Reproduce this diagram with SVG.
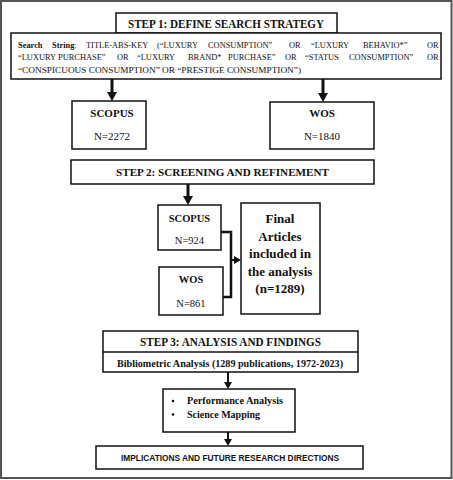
<svg xmlns="http://www.w3.org/2000/svg" width="453" height="480" viewBox="0 0 453 480">
<style>
.box{fill:#fff;stroke:#111;stroke-width:1.5}
.t{font-family:"Liberation Serif","Times New Roman",serif;fill:#111}
.b{font-weight:bold}
.s{font-family:"Liberation Sans",Arial,sans-serif;font-weight:bold;fill:#111}
.con{fill:none;stroke:#111}
</style>
<defs>
<marker id="ah" markerUnits="userSpaceOnUse" markerWidth="10" markerHeight="10" refX="0" refY="5" orient="auto"><path d="M0,0 L9,5 L0,10 z" fill="#111"/></marker>
<marker id="ahs" markerUnits="userSpaceOnUse" markerWidth="8" markerHeight="8" refX="0" refY="4" orient="auto"><path d="M0,0 L7,4 L0,8 z" fill="#111"/></marker>
</defs>
<rect x="0" y="0" width="453" height="480" fill="#fff"/>
<rect x="1" y="1" width="450.5" height="477" fill="none" stroke="#555" stroke-width="2"/>

<g id="connectors">
<line class="con" x1="112" y1="79" x2="112" y2="92" stroke-width="3" marker-end="url(#ah)"/>
<line class="con" x1="323" y1="79" x2="323" y2="93" stroke-width="3" marker-end="url(#ah)"/>
<line class="con" x1="188" y1="184" x2="188" y2="196" stroke-width="3" marker-end="url(#ah)"/>
<polyline class="con" points="221,232 231,232 231,297 223,297" stroke-width="2.5"/>
<line class="con" x1="231" y1="260" x2="234" y2="260" stroke-width="2" marker-end="url(#ahs)"/>
<line class="con" x1="228" y1="372" x2="228" y2="382" stroke-width="2" marker-end="url(#ahs)"/>
<line class="con" x1="228" y1="432" x2="228" y2="439" stroke-width="2" marker-end="url(#ahs)"/>
</g>

<g id="step1">
<rect class="box" x="116" y="13" width="221" height="20"/>
<text class="t b" x="226" y="28" font-size="11.5" text-anchor="middle" textLength="196" lengthAdjust="spacingAndGlyphs">STEP 1: DEFINE SEARCH STRATEGY</text>
</g>

<g id="search-string">
<rect class="box" x="11" y="33" width="430" height="46"/>
<text class="t" font-size="8.4" y="47.5"><tspan x="18" font-weight="bold">Search</tspan><tspan x="52" font-weight="bold">String</tspan><tspan>:</tspan><tspan x="86">TITLE-ABS-KEY</tspan><tspan x="157">(“LUXURY</tspan><tspan x="208">CONSUMPTION”</tspan><tspan x="289">OR</tspan><tspan x="311">“LUXURY</tspan><tspan x="363">BEHAVIO*”</tspan><tspan x="427">OR</tspan></text>
<text class="t" font-size="8.4" y="59.5"><tspan x="18">“LUXURY</tspan><tspan x="58">PURCHASE”</tspan><tspan x="117">OR</tspan><tspan x="137">“LUXURY</tspan><tspan x="188">BRAND*</tspan><tspan x="228">PURCHASE”</tspan><tspan x="285">OR</tspan><tspan x="305">“STATUS</tspan><tspan x="349">CONSUMPTION”</tspan><tspan x="427">OR</tspan></text>
<text class="t" font-size="8.4" x="18" y="72.5" textLength="283" lengthAdjust="spacingAndGlyphs">“CONSPICUOUS CONSUMPTION” OR “PRESTIGE CONSUMPTION”)</text>
</g>

<g id="scopus1">
<rect class="box" x="72" y="101" width="74" height="48"/>
<text class="t b" x="112" y="117" font-size="11" text-anchor="middle">SCOPUS</text>
<text class="t" x="112" y="140" font-size="11" text-anchor="middle">N=2272</text>
</g>

<g id="wos1">
<rect class="box" x="270" y="102" width="104" height="47"/>
<text class="t b" x="322" y="117" font-size="11" text-anchor="middle">WOS</text>
<text class="t" x="322" y="140" font-size="11" text-anchor="middle">N=1840</text>
</g>

<g id="step2">
<rect class="box" x="71" y="160" width="303" height="24"/>
<text class="t b" x="222.5" y="176" font-size="10.5" text-anchor="middle" textLength="213" lengthAdjust="spacingAndGlyphs">STEP 2: SCREENING AND REFINEMENT</text>
</g>

<g id="scopus2">
<rect class="box" x="158" y="205" width="63" height="45"/>
<text class="t b" x="189.5" y="222" font-size="10.5" text-anchor="middle">SCOPUS</text>
<text class="t" x="189.5" y="244" font-size="10.5" text-anchor="middle">N=924</text>
</g>

<g id="wos2">
<rect class="box" x="159" y="267" width="64" height="48"/>
<text class="t b" x="191" y="283" font-size="10.5" text-anchor="middle">WOS</text>
<text class="t" x="191" y="307" font-size="10.5" text-anchor="middle">N=861</text>
</g>

<g id="final">
<rect class="box" x="241" y="203" width="79" height="111"/>
<text class="t b" x="280" font-size="13" text-anchor="middle"><tspan x="280" y="223">Final</tspan><tspan x="280" y="241">Articles</tspan><tspan x="280" y="258">included in</tspan><tspan x="280" y="276">the analysis</tspan><tspan x="280" y="293">(n=1289)</tspan></text>
</g>

<g id="step3">
<rect class="box" x="103" y="331" width="255" height="41"/>
<line x1="103" y1="352" x2="358" y2="352" stroke="#111" stroke-width="1.5"/>
<text class="t b" x="230.5" y="346" font-size="11.5" text-anchor="middle" textLength="181" lengthAdjust="spacingAndGlyphs">STEP 3: ANALYSIS AND FINDINGS</text>
<text class="t b" x="230" y="367" font-size="10" text-anchor="middle" textLength="226" lengthAdjust="spacingAndGlyphs">Bibliometric Analysis (1289 publications, 1972-2023)</text>
</g>

<g id="methods">
<rect class="box" x="163" y="389" width="132" height="43"/>
<circle cx="173" cy="401" r="1.3" fill="#111"/>
<circle cx="173" cy="414.5" r="1.3" fill="#111"/>
<text class="t b" x="187" y="404" font-size="10" textLength="96" lengthAdjust="spacingAndGlyphs">Performance Analysis</text>
<text class="t b" x="187" y="418" font-size="10">Science Mapping</text>
</g>

<g id="implications">
<rect class="box" x="96" y="446" width="267" height="23"/>
<text class="s" x="230" y="460.5" font-size="9.5" text-anchor="middle" textLength="218" lengthAdjust="spacingAndGlyphs">IMPLICATIONS AND FUTURE RESEARCH DIRECTIONS</text>
</g>
</svg>
